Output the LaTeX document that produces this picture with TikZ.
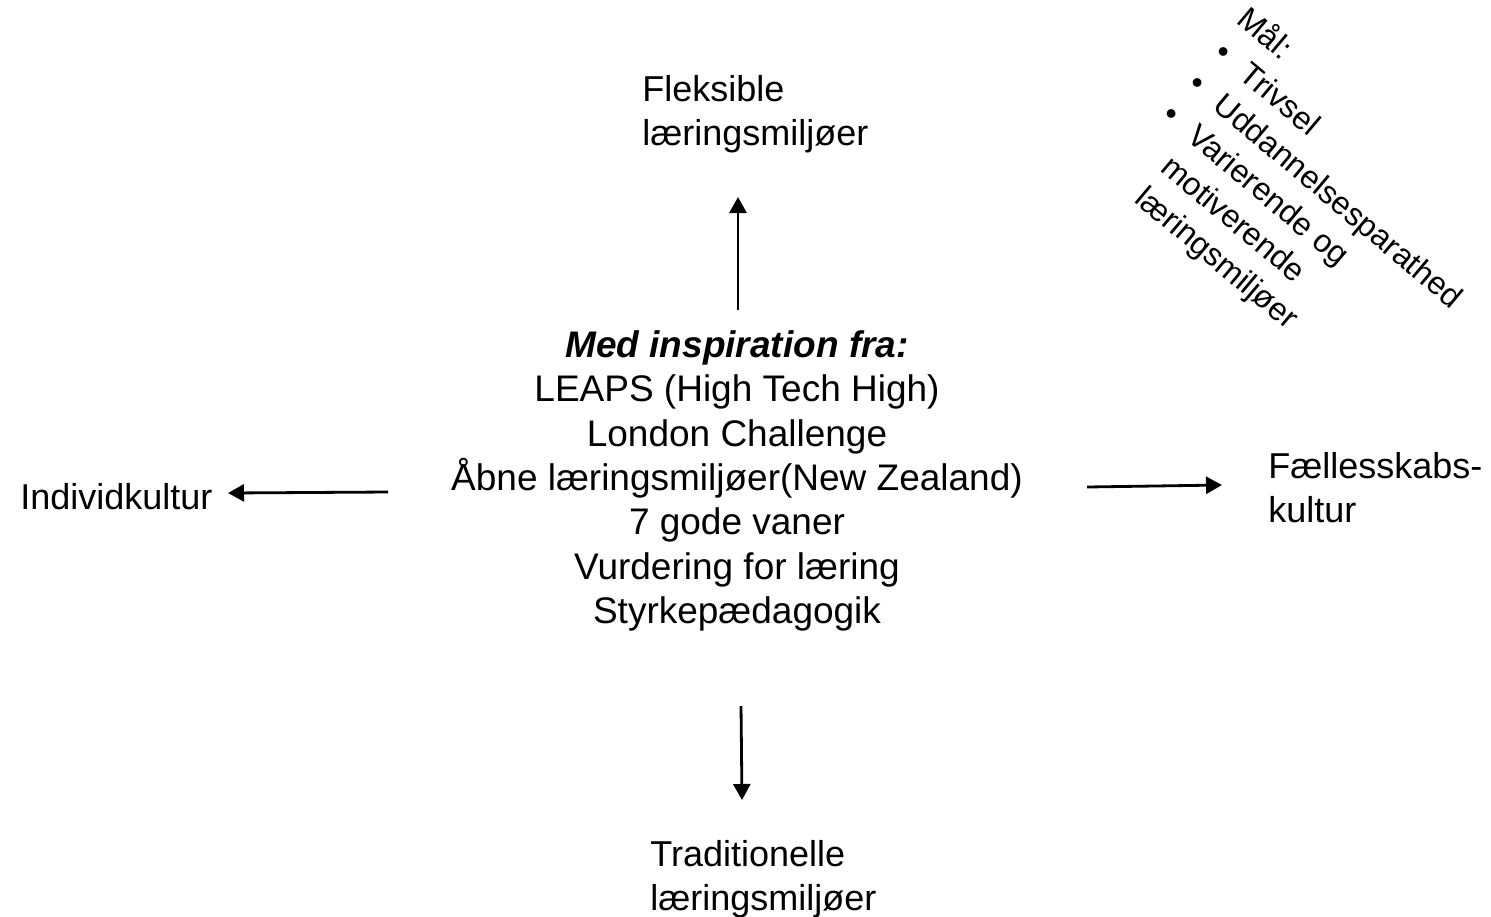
\documentclass[tikz,border=0pt]{standalone}
\usepackage{fontspec}
\setmainfont{Liberation Sans}
\usetikzlibrary{arrows.meta, positioning}

\begin{document}
\begin{tikzpicture}[
x=0.5pt, y=-0.5pt,
every node/.style={font=\fontsize{18}{22}\selectfont, inner sep=0pt},
side label/.style={align=left, anchor=north west},
goal text/.style={font=\fontsize{16}{20.3}\selectfont, align=left, rotate=-40, anchor=north west},
arrow/.style={-{Triangle[length=8pt, width=8.5pt]}, line width=1.4pt},
]
\useasboundingbox (0,0) rectangle (1491,916);

% Inspiration block in the middle
\node[align=center, font=\fontsize{18.5}{22.2}\selectfont] (insp) at (737,481) {\textbf{\textit{Med inspiration fra:}}\\LEAPS (High Tech High)\\London Challenge\\Åbne læringsmiljøer(New Zealand)\\7 gode vaner\\Vurdering for læring\\Styrkepædagogik};

% The four poles
\node[side label] (flex) at (642,75) {Fleksible\\læringsmiljøer};
\node[side label] (trad) at (650,840) {Traditionelle\\læringsmiljøer};
\node[anchor=west] (indiv) at (20,497) {Individkultur};
\node[side label] (faell) at (1268,452) {Fællesskabs-\\kultur};

% Goals, turned
\node[goal text] (goals) at (1252,2) {Mål:\\
\makebox[18.5pt][l]{\hspace{2pt}\textbullet}Trivsel\\
\makebox[18.5pt][l]{\hspace{2pt}\textbullet}Uddannelsesparathed\\
\makebox[18.5pt][l]{\hspace{2pt}\textbullet}Varierende og\\
\hspace*{18.5pt}motiverende\\
\hspace*{18.5pt}læringsmiljøer};

% Arrow ends
\coordinate (upTail) at (738,310);
\coordinate (upHead) at (738,197);
\coordinate (leftTail) at (388,492);
\coordinate (leftHead) at (228,493);
\coordinate (rightTail) at (1087,487);
\coordinate (rightHead) at (1222,485);
\coordinate (downTail) at (741,706);
\coordinate (downHead) at (742,800);

\draw[arrow] (upTail) -- (upHead);
\draw[arrow] (leftTail) -- (leftHead);
\draw[arrow] (rightTail) -- (rightHead);
\draw[arrow] (downTail) -- (downHead);
\end{tikzpicture}
\end{document}
